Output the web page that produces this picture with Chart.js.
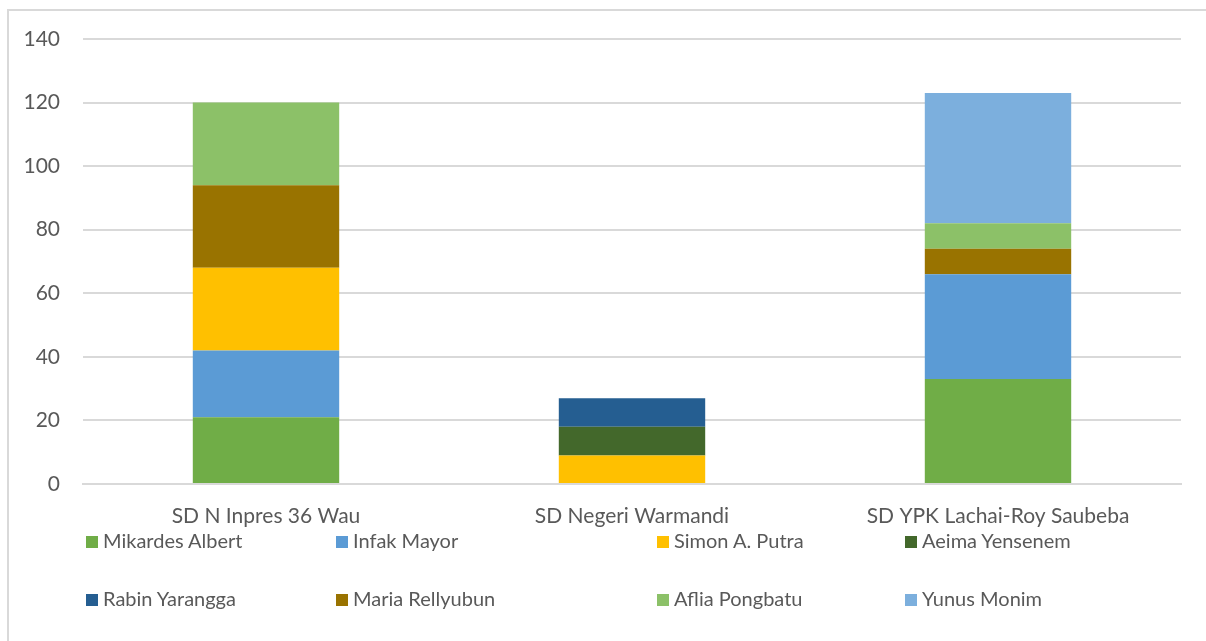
<!DOCTYPE html>
<html>
<head>
<meta charset="utf-8">
<script src="https://cdn.jsdelivr.net/npm/chart.js@4"></script>
<style>
  html, body { margin:0; padding:0; background:#fff; }
  #wrap { position:relative; width:1206px; height:641px; overflow:hidden; font-family:Lato, 'Open Sans', sans-serif; }
  #frame { position:absolute; left:7px; top:9px; width:1220px; height:660px; border:2px solid #d9d9d9; box-sizing:border-box; }
  canvas { position:absolute; left:0; top:0; }
  .lg { position:absolute; font-size:20px; color:#595959; white-space:nowrap; line-height:24px; }
  .lg span { display:inline-block; width:12px; height:12px; margin-right:5px; vertical-align:0px; }
</style>
</head>
<body>
<div id="wrap">
  <div id="frame"></div>
  <canvas id="chart" width="1206" height="641"></canvas>
  <div id="legend"></div>
</div>
<script>
const schools = ['SD N Inpres 36 Wau', 'SD Negeri Warmandi', 'SD YPK Lachai-Roy Saubeba'];
const names = ['Mikardes Albert', 'Infak Mayor', 'Simon A. Putra', 'Aeima Yensenem', 'Rabin Yarangga', 'Maria Rellyubun', 'Aflia Pongbatu', 'Yunus Monim'];
const colors = ['#70AD47', '#5B9BD5', '#FFC000', '#43682B', '#255E91', '#997300', '#8CC168', '#7CAFDD'];

const mikardes = [21, null, 33];
const infak    = [21, null, 33];
const simon    = [26, 9, null];
const aeima    = [null, 9, null];
const rabin    = [null, 9, null];
const maria    = [26, null, 8];
const aflia    = [26, null, 8];
const yunus    = [null, null, 41];
const series = [mikardes, infak, simon, aeima, rabin, maria, aflia, yunus];

const yTicks = [0, 20, 40, 60, 80, 100, 120, 140];

// legend: 4 columns, 2 rows, like the office chart
const legendX = [86, 336, 657, 905];
const legendY = [528, 586];
const lg = document.getElementById('legend');
names.forEach((n, i) => {
  const d = document.createElement('div');
  d.className = 'lg';
  d.style.left = legendX[i % 4] + 'px';
  d.style.top = legendY[Math.floor(i / 4)] + 'px';
  d.innerHTML = `<span style="background:${colors[i]}"></span>${n}`;
  lg.appendChild(d);
});

const ctx = document.getElementById('chart').getContext('2d');
new Chart(ctx, {
  type: 'bar',
  data: {
    labels: schools,
    datasets: series.map((s, i) => ({
      label: names[i], data: s,
      backgroundColor: colors[i], borderWidth: 0,
      barPercentage: 0.4, categoryPercentage: 1
    }))
  },
  options: {
    responsive: false, animation: false,
    layout: { padding: { left: 0, top: 39, right: 25, bottom: 0 } },
    plugins: { legend: { display: false }, tooltip: { enabled: false } },
    scales: {
      x: {
        stacked: true,
        grid: { display: false, drawTicks: false },
        border: { color: '#d9d9d9', width: 2 },
        ticks: { color: '#595959', font: { family: 'Lato', size: 21 }, padding: 20, maxRotation: 0 },
        afterFit: s => { s.height = 157; }
      },
      y: {
        stacked: true, min: 0, max: 140,
        afterBuildTicks: s => { s.ticks = yTicks.map(v => ({ value: v })); },
        grid: { color: '#d9d9d9', lineWidth: 2, drawTicks: false },
        border: { display: false },
        ticks: { color: '#595959', font: { family: 'Lato', size: 21 }, padding: 23 },
        afterFit: s => { s.width = 83; }
      }
    }
  }
});
</script>
</body>
</html>
